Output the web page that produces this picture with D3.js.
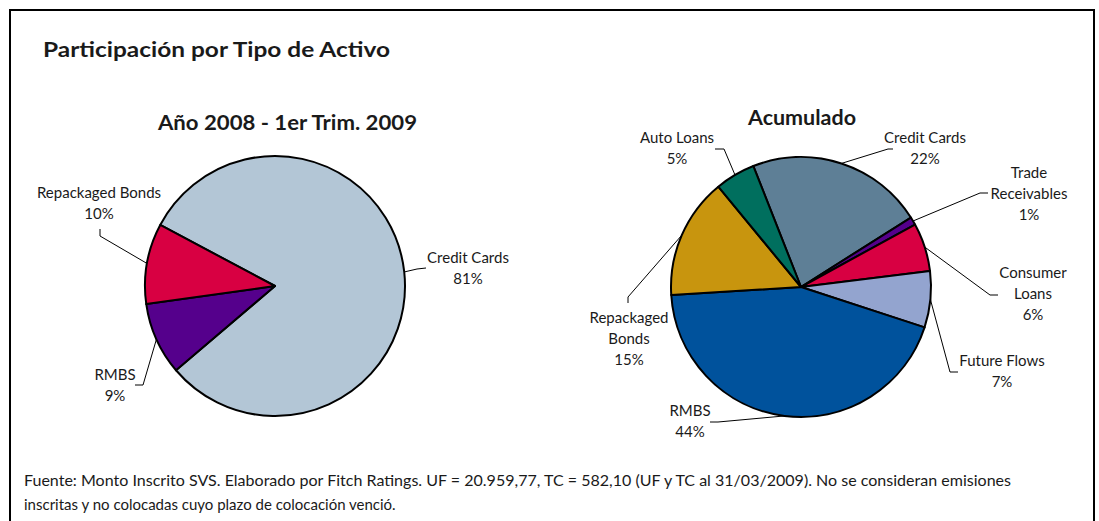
<!DOCTYPE html>
<html>
<head>
<meta charset="utf-8">
<script src="https://cdn.jsdelivr.net/npm/d3@7"></script>
<style>
  body { margin: 0; background: #fff; }
  text { font-family: Lato, "Noto Sans", sans-serif; fill: #1a1a1a; }
</style>
</head>
<body>
<div id="chart"></div>
<script>
// data
var leftCategories = ["Credit Cards", "RMBS", "Repackaged Bonds"];
var leftValues = [81, 9, 10];

var rightCategories = ["Credit Cards", "Trade Receivables", "Consumer Loans", "Future Flows", "RMBS", "Repackaged Bonds", "Auto Loans"];
var rightValues = [22, 1, 6, 7, 44, 15, 5];

var titleText = "Participación por Tipo de Activo";
var leftTitle = "Año 2008 - 1er Trim. 2009";
var rightTitle = "Acumulado";
var footerLines = [
	"Fuente: Monto Inscrito SVS. Elaborado por Fitch Ratings. UF = 20.959,77, TC = 582,10 (UF y TC al 31/03/2009). No se consideran emisiones",
	"inscritas y no colocadas cuyo plazo de colocación venció."
];

// colours
var colors = {
	"left": {"Credit Cards": "#b3c6d6", "RMBS": "#55008c", "Repackaged Bonds": "#d80042"},
	"right": {
		"Credit Cards": "#5e7f96", "Trade Receivables": "#55008c", "Consumer Loans": "#d80042",
		"Future Flows": "#93a4cf", "RMBS": "#00529c", "Repackaged Bonds": "#c8950e", "Auto Loans": "#006f5e"
	}
};

// label layout: text lines, centre x, first baseline, leader elbow and end
var leftLayout = {
	"Credit Cards": {lines: ["Credit Cards", "81%"], x: 468, y: 263, elbow: [417, 269], end: [426, 268]},
	"RMBS": {lines: ["RMBS", "9%"], x: 115, y: 380, elbow: [143, 385], end: [135, 385]},
	"Repackaged Bonds": {lines: ["Repackaged Bonds", "10%"], x: 99, y: 198, elbow: [100, 236], end: [100, 229]}
};
var rightLayout = {
	"Credit Cards": {lines: ["Credit Cards", "22%"], x: 925, y: 143, elbow: [888, 149], end: [893, 149]},
	"Trade Receivables": {lines: ["Trade", "Receivables", "1%"], x: 1029, y: 178, elbow: [980, 193], end: [988, 193]},
	"Consumer Loans": {lines: ["Consumer", "Loans", "6%"], x: 1033, y: 278, elbow: [990, 295], end: [998, 295]},
	"Future Flows": {lines: ["Future Flows", "7%"], x: 1002, y: 366, elbow: [950, 372], end: [958, 372]},
	"RMBS": {lines: ["RMBS", "44%"], x: 690, y: 416, elbow: [718, 422], end: [710, 422]},
	"Repackaged Bonds": {lines: ["Repackaged", "Bonds", "15%"], x: 629, y: 323, elbow: [628, 297], end: [628, 303]},
	"Auto Loans": {lines: ["Auto Loans", "5%"], x: 677, y: 143, elbow: [724, 149], end: [715, 149]}
};

var width = 1099, height = 521;
var svg = d3.select("#chart").append("svg")
	.attr("width", width)
	.attr("height", height);

// frame
svg.append("path")
	.attr("d", "M10," + (height + 5) + "V10H1094V" + (height + 5))
	.attr("fill", "none")
	.attr("stroke", "#000")
	.attr("stroke-width", 2);

svg.append("text")
	.attr("x", 43)
	.attr("y", 57)
	.attr("font-size", 21)
	.attr("font-weight", "bold")
	.attr("textLength", 347)
	.attr("lengthAdjust", "spacingAndGlyphs")
	.text(titleText);

function drawPie(cx, cy, r, startDeg, cats, vals, palette, layout, title, titleX, titleY, titleW) {
	var pie = d3.pie()
		.sort(null)
		.value(function(d) { return d.v; })
		.startAngle(startDeg * Math.PI / 180)
		.endAngle((startDeg + 360) * Math.PI / 180);
	var data = cats.map(function(c, i) { return {k: c, v: vals[i]}; });
	var arcs = pie(data);
	var arc = d3.arc().innerRadius(0).outerRadius(r);

	var g = svg.append("g").attr("transform", "translate(" + cx + "," + cy + ")");

	g.selectAll("path.slice")
		.data(arcs)
		.enter().append("path")
		.attr("class", "slice")
		.attr("d", arc)
		.attr("fill", function(d) { return palette[d.data.k]; })
		.attr("stroke", "#000")
		.attr("stroke-width", 2)
		.attr("stroke-linejoin", "round");

	// leader lines
	arcs.forEach(function(d) {
		var L = layout[d.data.k];
		var a = (d.startAngle + d.endAngle) / 2;
		var px = cx + r * Math.sin(a), py = cy - r * Math.cos(a);
		svg.append("path")
			.attr("d", "M" + px + "," + py + "L" + L.elbow[0] + "," + L.elbow[1] + "L" + L.end[0] + "," + L.end[1])
			.attr("fill", "none")
			.attr("stroke", "#000")
			.attr("stroke-width", 1);
		var t = svg.append("text")
			.attr("text-anchor", "middle")
			.attr("font-size", 15);
		L.lines.forEach(function(s, i) {
			t.append("tspan")
				.attr("x", L.x)
				.attr("y", L.y + i * 21)
				.text(s);
		});
	});

	svg.append("text")
		.attr("x", titleX - titleW / 2)
		.attr("y", titleY)
		.attr("font-size", 20)
		.attr("font-weight", "bold")
		.attr("textLength", titleW)
		.attr("lengthAdjust", "spacingAndGlyphs")
		.text(title);
}

drawPie(275, 286, 130, 298, leftCategories, leftValues, colors.left, leftLayout, leftTitle, 287.5, 130, 259);
drawPie(801, 287, 130, 338.5, rightCategories, rightValues, colors.right, rightLayout, rightTitle, 802, 125, 108);

// footer
svg.selectAll("text.footer")
	.data(footerLines)
	.enter().append("text")
	.attr("class", "footer")
	.attr("x", 24)
	.attr("y", function(d, i) { return 486 + i * 24; })
	.attr("font-size", 15)
	.text(function(d) { return d; });
svg.select("text.footer")
	.attr("textLength", 987)
	.attr("lengthAdjust", "spacingAndGlyphs");
</script>
</body>
</html>
